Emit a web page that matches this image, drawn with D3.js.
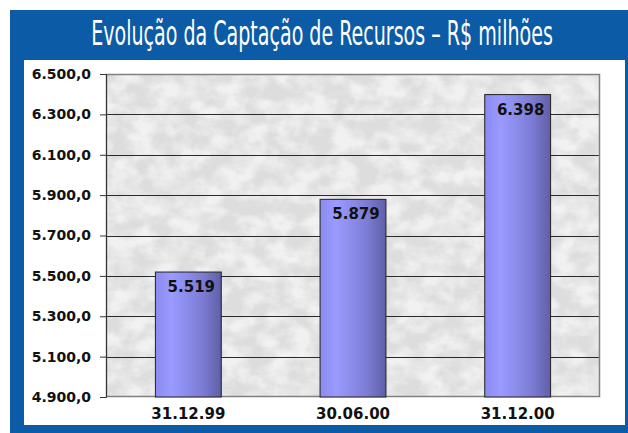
<!DOCTYPE html>
<html>
<head>
<meta charset="utf-8">
<script src="https://cdn.jsdelivr.net/npm/d3@7"></script>
<style>
  html, body { margin: 0; padding: 0; background: #ffffff; }
  svg { display: block; }
</style>
</head>
<body>
<svg id="chart" width="628" height="433"></svg>
<script>
// Deposits raised, R$ millions
const categories = ["31.12.99", "30.06.00", "31.12.00"];
const values = [5519, 5879, 6398];
const valueLabels = ["5.519", "5.879", "6.398"];
const yTicks = [4900, 5100, 5300, 5500, 5700, 5900, 6100, 6300, 6500];
const title = "Evolução da Captação de Recursos – R$ milhões";

const svg = d3.select("#chart");
const W = 628, H = 433;
const blue = "#0B5BA6";

const defs = svg.append("defs");

// Grey marble texture for the plot background
const marble = defs.append("filter").attr("id", "marble")
  .attr("x", 0).attr("y", 0).attr("width", "100%").attr("height", "100%");
marble.append("feTurbulence").attr("type", "fractalNoise")
  .attr("baseFrequency", "0.045 0.06").attr("numOctaves", 4).attr("seed", 11).attr("result", "noise");
marble.append("feColorMatrix").attr("in", "noise").attr("type", "matrix")
  .attr("values", "0 0 0 0 0.72  0 0 0 0 0.72  0 0 0 0 0.72  0 0 0 -2.6 1.85");
marble.append("feComposite").attr("in2", "SourceGraphic").attr("operator", "in");

// Horizontal shading on the bars
const grad = defs.append("linearGradient").attr("id", "barGrad")
  .attr("x1", "0%").attr("x2", "100%").attr("y1", "0%").attr("y2", "0%");
grad.append("stop").attr("offset", "0%").attr("stop-color", "#8a8af0");
grad.append("stop").attr("offset", "25%").attr("stop-color", "#9a9aff");
grad.append("stop").attr("offset", "70%").attr("stop-color", "#7d7dd6");
grad.append("stop").attr("offset", "100%").attr("stop-color", "#5f5fa8");

// Frame
svg.append("rect").attr("x", 10).attr("y", 10).attr("width", W - 10).attr("height", H - 10).attr("fill", blue);
svg.append("rect").attr("x", 24).attr("y", 60).attr("width", 601).attr("height", 365).attr("fill", "#ffffff");

// Title, squeezed horizontally to a condensed look
const titleText = svg.append("text")
  .attr("text-anchor", "middle")
  .attr("fill", "#ffffff")
  .attr("font-family", "'Liberation Sans Narrow', 'DejaVu Sans Condensed', sans-serif")
  .attr("font-size", 33)
  .text(title);
const natural = titleText.node().getComputedTextLength();
const sx = Math.min(1, 462 / natural);
titleText.attr("transform", `translate(322,45) scale(${sx},1)`);

const plot = { left: 106, right: 600, top: 74, bottom: 397 };

const x = d3.scaleBand().domain(categories)
  .range([plot.left, plot.right]).paddingInner(0.6).paddingOuter(0.3);
const y = d3.scaleLinear().domain([4900, 6500]).range([plot.bottom, plot.top]);

// Plot background
const bg = svg.append("g");
bg.append("rect")
  .attr("x", plot.left).attr("y", plot.top)
  .attr("width", plot.right - plot.left).attr("height", plot.bottom - plot.top)
  .attr("fill", "#f1f1f1");
bg.append("rect")
  .attr("x", plot.left).attr("y", plot.top)
  .attr("width", plot.right - plot.left).attr("height", plot.bottom - plot.top)
  .attr("fill", "#ffffff").attr("filter", "url(#marble)");

// Gridlines
svg.append("g").selectAll("line").data(yTicks.slice(1, -1)).join("line")
  .attr("x1", plot.left).attr("x2", plot.right)
  .attr("y1", d => Math.round(y(d)) + 0.5).attr("y2", d => Math.round(y(d)) + 0.5)
  .attr("stroke", "#2a2a2a").attr("stroke-width", 1);

// Plot border
svg.append("rect")
  .attr("x", plot.left + 0.5).attr("y", plot.top + 0.5)
  .attr("width", plot.right - plot.left - 1).attr("height", plot.bottom - plot.top - 1)
  .attr("fill", "none").attr("stroke", "#808080").attr("stroke-width", 1.5);

// Y axis
const fmt = d => d3.format(",.1f")(d).replace(/,/g, "#").replace(".", ",").replace(/#/g, ".");
const yAxis = svg.append("g")
  .attr("transform", `translate(${plot.left},0)`)
  .call(d3.axisLeft(y).tickValues(yTicks).tickSize(6).tickPadding(9).tickFormat(fmt));
yAxis.select(".domain").attr("stroke", "#333");
yAxis.selectAll(".tick line").attr("stroke", "#333");
yAxis.selectAll("text")
  .attr("fill", "#111")
  .attr("font-family", "'DejaVu Sans', sans-serif")
  .attr("font-weight", "bold")
  .attr("font-size", 14);

// X axis labels
svg.append("g").selectAll("text").data(categories).join("text")
  .attr("x", d => x(d) + x.bandwidth() / 2)
  .attr("y", 419)
  .attr("text-anchor", "middle")
  .attr("fill", "#111")
  .attr("font-family", "'DejaVu Sans', sans-serif")
  .attr("font-weight", "bold")
  .attr("font-size", 15)
  .text(d => d);

// Bars
svg.append("g").selectAll("rect").data(values).join("rect")
  .attr("x", (d, i) => x(categories[i]))
  .attr("y", d => y(d))
  .attr("width", x.bandwidth())
  .attr("height", d => plot.bottom - y(d))
  .attr("fill", "url(#barGrad)")
  .attr("stroke", "#222").attr("stroke-width", 1);

// Value labels
svg.append("g").selectAll("text").data(values).join("text")
  .attr("x", (d, i) => x(categories[i]) + x.bandwidth() / 2 + 3)
  .attr("y", d => y(d) + 20)
  .attr("text-anchor", "middle")
  .attr("fill", "#111")
  .attr("font-family", "'DejaVu Sans', sans-serif")
  .attr("font-weight", "bold")
  .attr("font-size", 15)
  .text((d, i) => valueLabels[i]);
</script>
</body>
</html>
